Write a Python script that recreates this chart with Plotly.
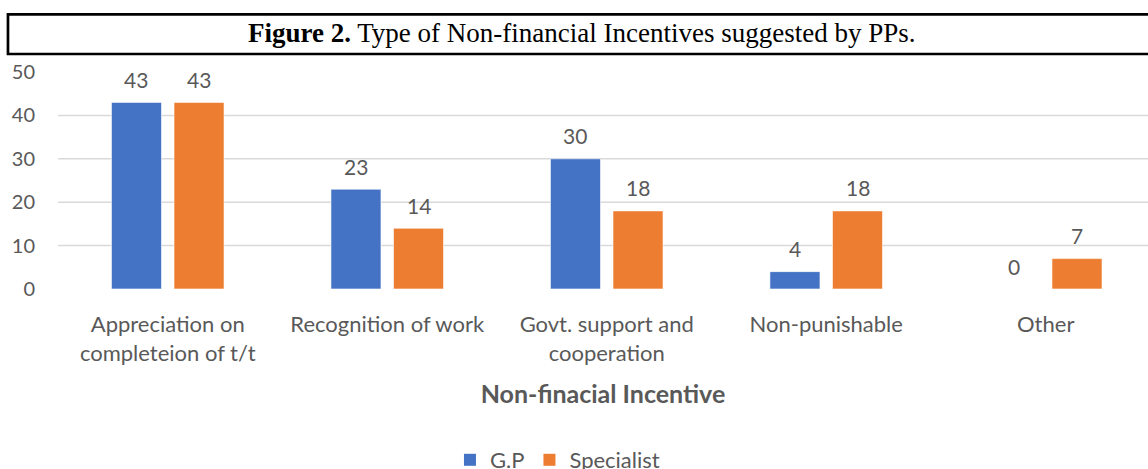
import plotly.graph_objects as go

categories = ["Appreciation on<br>completeion of t/t", "Recognition of work",
              "Govt. support and<br>cooperation", "Non-punishable", "Other"]
gp_values = [43, 23, 30, 4, 0]
specialist_values = [43, 14, 18, 18, 7]
series_names = ["G.P", "Specialist"]
series_colors = ["#4472C4", "#ED7D31"]
y_ticks = [0, 10, 20, 30, 40, 50]
grid_values = [10, 20, 30, 40]

FONT = "Lato"
GRAY = "#595959"
BARGAP = 0.43
BARGROUPGAP = 0.2

series = [gp_values, specialist_values]
n_series = len(series)
slot = (1 - BARGAP) / n_series

fig = go.Figure()
annotations = []
for k, (name, vals, color) in enumerate(zip(series_names, series, series_colors)):
    fig.add_trace(go.Bar(
        x=categories, y=vals, name=name, marker_color=color,
        marker_line=dict(color="rgba(255,255,255,0.6)", width=1),
        showlegend=False, cliponaxis=False,
    ))
    fig.add_trace(go.Scatter(
        x=[None], y=[None], mode="markers", name=name,
        marker=dict(symbol="square", size=12, color=color),
    ))
    offset = (k - (n_series - 1) / 2) * slot
    for i, v in enumerate(vals):
        annotations.append(dict(
            x=i + offset, y=v, xref="x", yref="y", text=str(v), showarrow=False,
            xanchor="center", yanchor="middle", yshift=23,
            font=dict(family=FONT, size=21, color=GRAY)))

shapes = [dict(type="line", xref="paper", yref="y", x0=0, x1=1, y0=g, y1=g,
               line=dict(color="#D9D9D9", width=1.5), layer="below")
          for g in grid_values]
shapes.append(dict(type="rect", xref="paper", yref="paper",
                   x0=-0.0459, x1=1.01, y0=1.083, y1=1.2656,
                   line=dict(color="black", width=2.7), fillcolor="white"))

annotations.append(dict(
    text="<b>Figure 2.</b> Type of Non-financial Incentives suggested by PPs.",
    xref="paper", yref="paper", x=0.481, y=1.18, xanchor="center",
    yanchor="middle", showarrow=False,
    font=dict(family="Liberation Serif", size=27, color="black")))

fig.update_layout(
    width=1148, height=469,
    margin=dict(l=58, r=0, t=72, b=180, autoexpand=False),
    paper_bgcolor="white", plot_bgcolor="white",
    barmode="group", bargap=BARGAP, bargroupgap=BARGROUPGAP,
    font=dict(family=FONT, size=20, color=GRAY),
    shapes=shapes,
    annotations=annotations,
    legend=dict(orientation="h", x=0.3596, xanchor="left",
                y=0.0192, yref="container", yanchor="middle",
                font=dict(family=FONT, size=22, color=GRAY), traceorder="normal"),
)
fig.update_xaxes(range=[-0.5, 4.466], showgrid=False, showline=False, ticks="",
                 automargin=False,
                 ticklabelstandoff=20, tickfont=dict(family=FONT, size=22, color=GRAY),
                 title=dict(text="<b>Non-finacial Incentive</b>", standoff=20,
                            font=dict(family=FONT, size=25, color=GRAY)))
fig.update_yaxes(range=[0, 50], tickvals=y_ticks, showgrid=False, zeroline=False,
                 showline=False, ticklabelstandoff=22, automargin=False,
                 tickfont=dict(family=FONT, size=20, color=GRAY))

fig.write_html("out.html")
